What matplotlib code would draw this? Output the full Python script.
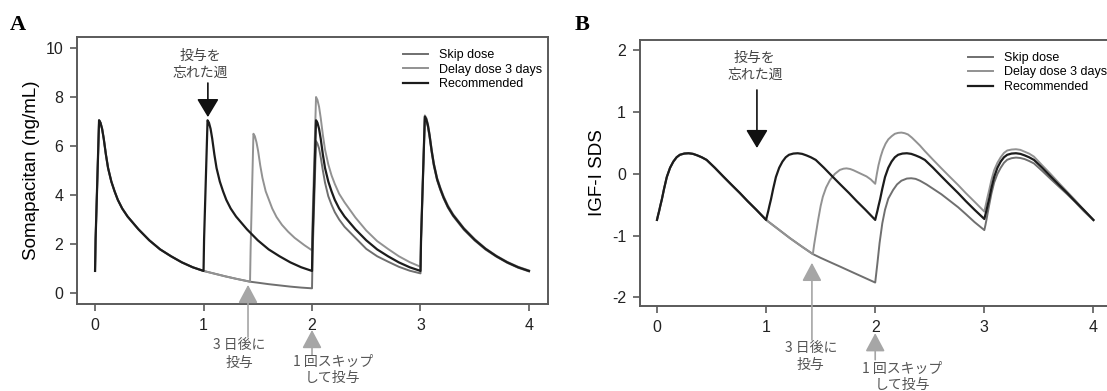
import matplotlib
matplotlib.use("Agg")
import matplotlib.pyplot as plt

# ---- Panel A: somapacitan concentration (ng/mL) vs week ----
a_rec_x = [0, 0.005, 0.037, 0.05, 0.065, 0.08, 0.1, 0.12, 0.15, 0.18, 0.21, 0.25, 0.3, 0.4, 0.5, 0.6, 0.7, 0.8, 0.9,
           1.0, 1.005, 1.037, 1.05, 1.065, 1.08, 1.1, 1.12, 1.15, 1.18, 1.21, 1.25, 1.3, 1.4, 1.5, 1.6, 1.7, 1.8, 1.9,
           2.0, 2.005, 2.037, 2.05, 2.065, 2.08, 2.1, 2.12, 2.15, 2.18, 2.21, 2.25, 2.3, 2.4, 2.5, 2.6, 2.7, 2.8, 2.9,
           3.0, 3.005, 3.04, 3.053, 3.068, 3.083, 3.103, 3.123, 3.153, 3.183, 3.213, 3.253, 3.3, 3.4, 3.5, 3.6,
           3.7, 3.8, 3.9, 4.0]
a_rec_y = [0.9, 2.2, 7.05, 6.95, 6.7, 6.3, 5.65, 5.1, 4.55, 4.15, 3.8, 3.45, 3.12, 2.6, 2.15, 1.78, 1.5, 1.25, 1.05,
           0.9, 2.2, 7.05, 6.95, 6.7, 6.3, 5.65, 5.1, 4.55, 4.15, 3.8, 3.45, 3.12, 2.6, 2.15, 1.78, 1.5, 1.25, 1.05,
           0.9, 2.2, 7.05, 6.95, 6.7, 6.3, 5.65, 5.1, 4.55, 4.15, 3.8, 3.45, 3.12, 2.6, 2.15, 1.78, 1.5, 1.25, 1.05,
           0.9, 2.2, 7.2, 7.1, 6.85, 6.45, 5.8, 5.25, 4.65, 4.25, 3.9, 3.52, 3.18, 2.62, 2.17, 1.8,
           1.5, 1.25, 1.05, 0.9]

a_skip_x = [0, 0.005, 0.037, 0.05, 0.065, 0.08, 0.1, 0.12, 0.15, 0.18, 0.21, 0.25, 0.3, 0.4, 0.5, 0.6, 0.7, 0.8, 0.9,
            1.0, 1.1, 1.2, 1.3, 1.43, 1.5, 1.6, 1.7, 1.8, 1.9,
            2.0, 2.005, 2.037, 2.05, 2.065, 2.08, 2.1, 2.12, 2.15, 2.18, 2.21, 2.25, 2.3, 2.4, 2.5, 2.6, 2.7, 2.8, 2.9,
            3.0, 3.005, 3.04, 3.053, 3.068, 3.083, 3.103, 3.123, 3.153, 3.183, 3.213, 3.253, 3.3, 3.4, 3.5, 3.6,
            3.7, 3.8, 3.9, 4.0]
a_skip_y = [0.9, 2.2, 7.05, 6.95, 6.7, 6.3, 5.65, 5.1, 4.55, 4.15, 3.8, 3.45, 3.12, 2.6, 2.15, 1.78, 1.5, 1.25, 1.05,
            0.9, 0.79, 0.68, 0.58, 0.46, 0.42, 0.36, 0.31, 0.26, 0.22,
            0.19, 1.5, 6.2, 6.1, 5.9, 5.55, 5.0, 4.5, 3.95, 3.6, 3.3, 3.0, 2.7, 2.25, 1.8, 1.5, 1.28, 1.07, 0.91,
            0.8, 2.1, 7.12, 7.02, 6.78, 6.38, 5.74, 5.19, 4.6, 4.2, 3.86, 3.48, 3.14, 2.58, 2.14, 1.77,
            1.48, 1.23, 1.03, 0.88]

a_delay_x = [0, 0.005, 0.037, 0.05, 0.065, 0.08, 0.1, 0.12, 0.15, 0.18, 0.21, 0.25, 0.3, 0.4, 0.5, 0.6, 0.7, 0.8, 0.9,
             1.0, 1.1, 1.2, 1.3, 1.4286, 1.434, 1.46, 1.473, 1.488, 1.503, 1.523, 1.543, 1.573, 1.603, 1.633,
             1.673, 1.723, 1.78, 1.84, 1.93,
             2.0, 2.005, 2.037, 2.05, 2.065, 2.08, 2.1, 2.12, 2.15, 2.18, 2.21, 2.25, 2.3, 2.4, 2.5, 2.6, 2.7, 2.8, 2.9,
             3.0, 3.005, 3.04, 3.053, 3.068, 3.083, 3.103, 3.123, 3.153, 3.183, 3.213, 3.253, 3.3, 3.4, 3.5, 3.6,
             3.7, 3.8, 3.9, 4.0]
a_delay_y = [0.9, 2.2, 7.05, 6.95, 6.7, 6.3, 5.65, 5.1, 4.55, 4.15, 3.8, 3.45, 3.12, 2.6, 2.15, 1.78, 1.5, 1.25, 1.05,
             0.9, 0.79, 0.68, 0.58, 0.46, 1.8, 6.5, 6.4, 6.15, 5.8, 5.2, 4.7, 4.15, 3.8, 3.45,
             3.1, 2.78, 2.5, 2.25, 1.95,
             1.74, 3.0, 8.0, 7.88, 7.6, 7.15, 6.45, 5.85, 5.25, 4.8, 4.45, 4.05, 3.7, 3.08, 2.55, 2.12, 1.8, 1.5, 1.26,
             1.07, 2.3, 7.25, 7.15, 6.9, 6.5, 5.86, 5.3, 4.7, 4.3, 3.95, 3.57, 3.22, 2.65, 2.2, 1.82,
             1.52, 1.27, 1.07, 0.92]

# ---- Panel B: IGF-I SDS vs week ----
b_rec_x = [0, 0.01, 0.02, 0.03, 0.045, 0.065, 0.09, 0.12, 0.15, 0.18, 0.21, 0.25, 0.29, 0.33, 0.37, 0.41, 0.455,
           0.53, 0.607, 0.68, 0.76, 0.83, 0.91,
           1.0, 1.01, 1.02, 1.03, 1.045, 1.065, 1.09, 1.12, 1.15, 1.18, 1.21, 1.25, 1.29, 1.33, 1.37, 1.41, 1.455,
           1.53, 1.607, 1.68, 1.76, 1.83, 1.91,
           2.0, 2.01, 2.02, 2.03, 2.045, 2.065, 2.09, 2.12, 2.15, 2.18, 2.21, 2.25, 2.29, 2.33, 2.37, 2.41, 2.455,
           2.53, 2.607, 2.68, 2.76, 2.83, 2.91,
           3.0, 3.01, 3.02, 3.03, 3.045, 3.065, 3.09, 3.12, 3.15, 3.18, 3.21, 3.25, 3.29, 3.33, 3.37, 3.41, 3.455,
           3.53, 3.607, 3.68, 3.76, 3.83, 3.91, 4.0]
b_rec_y = [-0.745, -0.67, -0.6, -0.52, -0.41, -0.24, -0.05, 0.1, 0.2, 0.27, 0.31, 0.33, 0.335, 0.325, 0.3, 0.27, 0.227,
           0.1, -0.04, -0.17, -0.31, -0.44, -0.58,
           -0.745, -0.67, -0.6, -0.52, -0.41, -0.24, -0.05, 0.1, 0.2, 0.27, 0.31, 0.33, 0.335, 0.325, 0.3, 0.27, 0.227,
           0.1, -0.04, -0.17, -0.31, -0.44, -0.58,
           -0.745, -0.67, -0.6, -0.52, -0.41, -0.24, -0.05, 0.1, 0.2, 0.27, 0.31, 0.33, 0.335, 0.325, 0.3, 0.27, 0.227,
           0.1, -0.04, -0.17, -0.31, -0.44, -0.58,
           -0.73, -0.66, -0.59, -0.51, -0.4, -0.23, -0.05, 0.1, 0.2, 0.27, 0.31, 0.33, 0.335, 0.325, 0.3, 0.27, 0.227,
           0.1, -0.04, -0.17, -0.31, -0.44, -0.58, -0.745]

b_skip_x = [0, 0.01, 0.02, 0.03, 0.045, 0.065, 0.09, 0.12, 0.15, 0.18, 0.21, 0.25, 0.29, 0.33, 0.37, 0.41, 0.455,
            0.53, 0.607, 0.68, 0.76, 0.83, 0.91,
            1.0, 1.1, 1.218, 1.33, 1.43, 1.5, 1.6, 1.676, 1.8, 1.9,
            2.0, 2.02, 2.04, 2.065, 2.09, 2.12, 2.164, 2.2, 2.24, 2.29, 2.33, 2.37, 2.41, 2.47,
            2.53, 2.607, 2.68, 2.76, 2.83, 2.91,
            3.0, 3.01, 3.02, 3.03, 3.045, 3.065, 3.09, 3.12, 3.15, 3.18, 3.21, 3.25, 3.29, 3.33, 3.37, 3.41, 3.455,
            3.53, 3.607, 3.68, 3.76, 3.83, 3.91, 4.0]
b_skip_y = [-0.745, -0.67, -0.6, -0.52, -0.41, -0.24, -0.05, 0.1, 0.2, 0.27, 0.31, 0.33, 0.335, 0.325, 0.3, 0.27, 0.227,
            0.1, -0.04, -0.17, -0.31, -0.44, -0.58,
            -0.745, -0.88, -1.04, -1.18, -1.30, -1.36, -1.44, -1.5, -1.6, -1.68,
            -1.76, -1.45, -1.12, -0.8, -0.58, -0.4, -0.26, -0.17, -0.11, -0.075, -0.07, -0.08, -0.11, -0.17,
            -0.24, -0.33, -0.43, -0.54, -0.65, -0.78,
            -0.91, -0.83, -0.74, -0.64, -0.5, -0.32, -0.14, 0.0, 0.1, 0.18, 0.23, 0.255, 0.265, 0.258, 0.24, 0.21, 0.17,
            0.05, -0.08, -0.2, -0.33, -0.45, -0.6, -0.75]

b_delay_x = [0, 0.01, 0.02, 0.03, 0.045, 0.065, 0.09, 0.12, 0.15, 0.18, 0.21, 0.25, 0.29, 0.33, 0.37, 0.41, 0.455,
             0.53, 0.607, 0.68, 0.76, 0.83, 0.91,
             1.0, 1.1, 1.218, 1.33, 1.4286, 1.44, 1.46, 1.477, 1.5, 1.52, 1.55, 1.585, 1.63, 1.676, 1.71, 1.737,
             1.77, 1.8, 1.86, 1.92, 1.96,
             2.0, 2.015, 2.03, 2.05, 2.07, 2.095, 2.12, 2.15, 2.18, 2.21, 2.24, 2.27, 2.3, 2.335, 2.37, 2.41, 2.455,
             2.53, 2.607, 2.68, 2.76, 2.83, 2.91,
             3.0, 3.01, 3.02, 3.03, 3.045, 3.065, 3.09, 3.12, 3.15, 3.18, 3.21, 3.25, 3.29, 3.33, 3.37, 3.41, 3.455,
             3.53, 3.607, 3.68, 3.76, 3.83, 3.91, 4.0]
b_delay_y = [-0.745, -0.67, -0.6, -0.52, -0.41, -0.24, -0.05, 0.1, 0.2, 0.27, 0.31, 0.33, 0.335, 0.325, 0.3, 0.27, 0.227,
             0.1, -0.04, -0.17, -0.31, -0.44, -0.58,
             -0.745, -0.88, -1.04, -1.18, -1.30, -1.15, -0.93, -0.745, -0.52, -0.37, -0.22, -0.1, 0.0, 0.065, 0.085, 0.09,
             0.08, 0.06, 0.01, -0.04, -0.09,
             -0.16, 0.0, 0.14, 0.28, 0.39, 0.49, 0.56, 0.61, 0.65, 0.665, 0.67, 0.66, 0.64, 0.59, 0.53, 0.46, 0.37,
             0.23, 0.09, -0.04, -0.18, -0.31, -0.45,
             -0.61, -0.53, -0.45, -0.37, -0.26, -0.1, 0.06, 0.18, 0.27, 0.34, 0.38, 0.395, 0.40, 0.39, 0.36, 0.33, 0.28,
             0.14, 0.0, -0.14, -0.29, -0.42, -0.58, -0.75]

x_ticks = [0, 1, 2, 3, 4]
a_yticks = [0, 2, 4, 6, 8, 10]
b_yticks = [-2, -1, 0, 1, 2]
labels = ["Skip dose", "Delay dose 3 days", "Recommended"]

c_skip = "#6f6f6f"
c_delay = "#929292"
c_rec = "#1c1c1c"
c_axis = "#5a5a5a"

plt.rcParams['font.family'] = ['Liberation Sans', 'DejaVu Sans']
plt.rcParams['axes.unicode_minus'] = False
jp = ['Noto Sans CJK JP', 'DejaVu Sans']

fig = plt.figure(figsize=(11.07, 3.91), dpi=100)
axA = fig.add_axes([0.0696, 0.2225, 0.4254, 0.6829])
axB = fig.add_axes([0.5781, 0.2174, 0.4264, 0.6803])


def style(ax, yticks, xlim, ylim):
    ax.set_xlim(*xlim)
    ax.set_ylim(*ylim)
    ax.set_xticks(x_ticks)
    ax.set_yticks(yticks)
    for s in ax.spines.values():
        s.set_color(c_axis)
        s.set_linewidth(1.4)
    ax.tick_params(direction='out', length=5, width=1.2, color=c_axis,
                   labelsize=11.5, labelcolor='#222222', pad=5)


for ax, sx, sy, dx, dy, rx, ry in [
        (axA, a_skip_x, a_skip_y, a_delay_x, a_delay_y, a_rec_x, a_rec_y),
        (axB, b_skip_x, b_skip_y, b_delay_x, b_delay_y, b_rec_x, b_rec_y)]:
    ax.plot(sx, sy, color=c_skip, lw=1.4, label=labels[0])
    ax.plot(dx, dy, color=c_delay, lw=1.4, label=labels[1])
    ax.plot(rx, ry, color=c_rec, lw=1.6, label=labels[2])

style(axA, a_yticks, (-0.166, 4.175), (-0.45, 10.45))
style(axB, b_yticks, (-0.156, 4.17), (-2.14, 2.17))

axA.set_ylabel("Somapacitan (ng/mL)", fontsize=13.5, labelpad=4)
axB.set_ylabel("IGF-I SDS", fontsize=13.5, labelpad=4)

for ax, anchor in [(axA, (0.692, 0.955)), (axB, (0.695, 0.955))]:
    ax.legend(loc='upper left', bbox_to_anchor=anchor, frameon=False, fontsize=9,
              handlelength=2.0, handletextpad=0.9, labelspacing=0.2,
              borderpad=0, borderaxespad=0)

# panel letters
fig.text(0.009, 0.935, "A", fontsize=16, fontweight='bold', family='Liberation Serif', va='center')
fig.text(0.519, 0.935, "B", fontsize=16, fontweight='bold', family='Liberation Serif', va='center')

black_arrow = dict(arrowstyle='-|>,head_length=0.75,head_width=0.45', color='#111111',
                   lw=1.2, mutation_scale=15, shrinkA=0, shrinkB=0)
gray_arrow = dict(arrowstyle='-|>,head_length=0.75,head_width=0.4', color='#a6a6a6',
                  lw=1.2, mutation_scale=15, shrinkA=0, shrinkB=0)

# Panel A notes
axA.annotate("", xy=(1.04, 7.18), xytext=(1.04, 8.57), arrowprops=black_arrow)
axA.text(0.97, 9.96, "投与を\n忘れた週", family=jp, fontsize=10, color='#444444',
         ha='center', va='top', linespacing=1.3)
axA.annotate("", xy=(1.41, 0.33), xytext=(1.41, -1.8), arrowprops=gray_arrow,
             annotation_clip=False)
axA.text(1.327, -1.85, "3 日後に\n投与", family=jp, fontsize=10, color='#555555',
         ha='center', va='top', linespacing=1.3)
axA.annotate("", xy=(2.0, -1.51), xytext=(2.0, -2.53), arrowprops=gray_arrow,
             annotation_clip=False)
axA.text(2.19, -2.55, "1 回スキップ\nして投与", family=jp, fontsize=10, color='#555555',
         ha='center', va='top', linespacing=1.15)

# Panel B notes
axB.annotate("", xy=(0.916, 0.42), xytext=(0.916, 1.36), arrowprops=black_arrow)
axB.text(0.897, 2.0, "投与を\n忘れた週", family=jp, fontsize=10, color='#444444',
         ha='center', va='top', linespacing=1.3)
axB.annotate("", xy=(1.42, -1.44), xytext=(1.42, -2.69), arrowprops=gray_arrow,
             annotation_clip=False)
axB.text(1.41, -2.7, "3 日後に\n投与", family=jp, fontsize=10, color='#555555',
         ha='center', va='top', linespacing=1.3)
axB.annotate("", xy=(2.0, -2.58), xytext=(2.0, -3.01), arrowprops=gray_arrow,
             annotation_clip=False)
axB.text(2.25, -3.05, "1 回スキップ\nして投与", family=jp, fontsize=10, color='#555555',
         ha='center', va='top', linespacing=1.15)

fig.savefig("out.png", dpi=100)
